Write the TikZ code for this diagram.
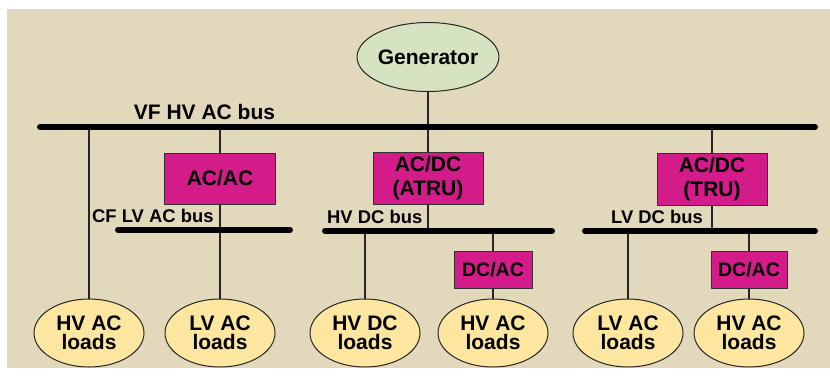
\documentclass[tikz,border=0pt]{standalone}
\usepackage{fontspec}
\setmainfont{Liberation Sans}
\usetikzlibrary{shapes.geometric}
\definecolor{bgc}{RGB}{226,216,188}
\definecolor{convc}{RGB}{211,27,138}
\definecolor{genc}{RGB}{214,227,192}
\definecolor{loadc}{RGB}{252,230,160}
\begin{document}
\begin{tikzpicture}[x=1pt,y=-1pt,
  bus/.style={line width=6pt, line cap=round, draw=black},
  wire/.style={line width=1.2pt, draw=black!85},
  conv/.style={rectangle, draw=black!80, fill=convc, line width=1pt, inner sep=0pt,
    align=center, font=\fontsize{21}{23.3}\selectfont\bfseries},
  load/.style={ellipse, draw=black!85, fill=loadc, line width=1pt, inner sep=0pt,
    minimum width=110pt, minimum height=68pt, align=center,
    font=\fontsize{21}{19.3}\selectfont\bfseries},
  gennode/.style={ellipse, draw=black!85, fill=genc, line width=1pt, inner sep=0pt,
    minimum width=121pt, minimum height=69pt, font=\fontsize{21}{24}\selectfont\bfseries},
  buslabel/.style={inner sep=0pt, anchor=base west, font=\fontsize{18.4}{20}\selectfont\bfseries},
  mainlabel/.style={inner sep=0pt, anchor=base, font=\fontsize{21}{24}\selectfont\bfseries}]
\useasboundingbox (0,0) rectangle (830,376);
\fill[bgc] (7,9) rectangle (830,368);

% bus end points
\coordinate (vfL) at (40,127);
\coordinate (vfR) at (815,127);
\coordinate (cfL) at (118,230);
\coordinate (cfR) at (290,230);
\coordinate (hvdcL) at (325,231);
\coordinate (hvdcR) at (552,231);
\coordinate (lvdcL) at (585,231);
\coordinate (lvdcR) at (815,231);

% nodes
\node[gennode] (gen) at (428,57) {Generator};
\node[conv, minimum width=111pt, minimum height=51pt] (acac) at (220,178.5) {AC/AC};
\node[conv, minimum width=110pt, minimum height=52pt] (atru) at (428,178) {AC/DC\\(ATRU)};
\node[conv, minimum width=110pt, minimum height=52pt] (tru) at (712,179) {AC/DC\\(TRU)};
\node[conv, minimum width=78pt, minimum height=37pt, font=\fontsize{19.5}{22}\selectfont\bfseries] (dcaca) at (493,269.5) {DC/AC};
\node[conv, minimum width=76pt, minimum height=37pt, font=\fontsize{19.5}{22}\selectfont\bfseries] (dcacb) at (749,269.5) {DC/AC};

\node[load] (hvaca) at (89,333) {HV AC\\loads};
\node[load] (lvaca) at (220,333) {LV AC\\loads};
\node[load] (hvdcl) at (365,333) {HV DC\\loads};
\node[load] (hvacb) at (493,333) {HV AC\\loads};
\node[load] (lvacb) at (628,333) {LV AC\\loads};
\node[load] (hvacc) at (749,333) {HV AC\\loads};

% labels
\node[mainlabel] (vflab) at (204.5,119) {VF HV AC bus};
\node[buslabel] (cflab) at (92,222.5) {CF LV AC bus};
\node[buslabel] (hvdclab) at (327,223) {HV DC bus};
\node[buslabel] (lvdclab) at (611,223) {LV DC bus};

% wires
\draw[wire] (gen.south) -- (atru.north);
\draw[wire] (vfL -| hvaca) -- (hvaca.north);
\draw[wire] (vfL -| acac) -- (acac.north);
\draw[wire] (acac.south) -- (lvaca.north);
\draw[wire] (atru.south) -- (hvdcL -| atru);
\draw[wire] (hvdcL -| hvdcl) -- (hvdcl.north);
\draw[wire] (hvdcL -| dcaca) -- (dcaca.north);
\draw[wire] (dcaca.south) -- (hvacb.north);
\draw[wire] (vfL -| tru) -- (tru.north);
\draw[wire] (tru.south) -- (lvdcL -| tru);
\draw[wire] (lvdcL -| lvacb) -- (lvacb.north);
\draw[wire] (lvdcL -| dcacb) -- (dcacb.north);
\draw[wire] (dcacb.south) -- (hvacc.north);

% buses
\draw[bus] (vfL) -- (vfR);
\draw[bus] (cfL) -- (cfR);
\draw[bus] (hvdcL) -- (hvdcR);
\draw[bus] (lvdcL) -- (lvdcR);
\end{tikzpicture}
\end{document}
